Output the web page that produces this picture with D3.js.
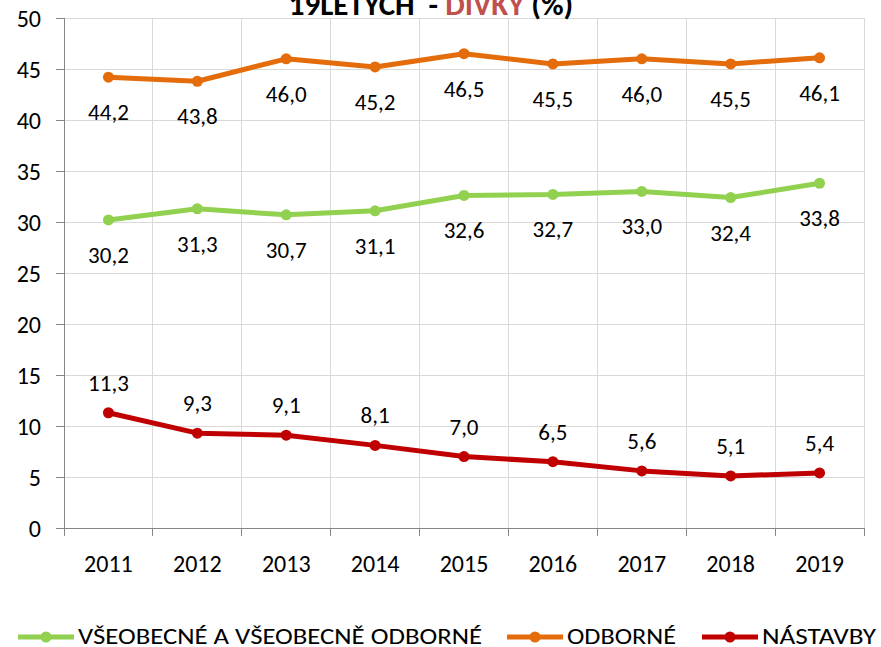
<!DOCTYPE html>
<html lang="cs">
<head>
<meta charset="utf-8">
<style>
body { margin: 0; background: #fff; }
svg text { font-family: Carlito, Lato, "Open Sans", sans-serif; fill: #000; }
.grid line { stroke: #d9d9d9; stroke-width: 1px; shape-rendering: crispEdges; }
.axis path, .axis line { stroke: #868686; stroke-width: 1px; shape-rendering: crispEdges; }
</style>
</head>
<body>
<svg width="881" height="647"></svg>
<script src="https://cdn.jsdelivr.net/npm/d3@7"></script>
<script>
var years = ["2011", "2012", "2013", "2014", "2015", "2016", "2017", "2018", "2019"];
var vseobecne = [30.2, 31.3, 30.7, 31.1, 32.6, 32.7, 33.0, 32.4, 33.8];
var odborne = [44.2, 43.8, 46.0, 45.2, 46.5, 45.5, 46.0, 45.5, 46.1];
var nastavby = [11.3, 9.3, 9.1, 8.1, 7.0, 6.5, 5.6, 5.1, 5.4];
var yTicks = [0, 5, 10, 15, 20, 25, 30, 35, 40, 45, 50];

var series = [
  { name: "VŠEOBECNÉ A VŠEOBECNĚ ODBORNÉ", values: vseobecne, color: "#92d050", below: true },
  { name: "ODBORNÉ", values: odborne, color: "#e46c0a", below: true },
  { name: "NÁSTAVBY", values: nastavby, color: "#c00000", below: false }
];

var svg = d3.select("svg");
var plotL = 64, plotR = 864, plotT = 18, plotB = 528;

var x = d3.scaleBand().domain(years).range([plotL, plotR]);
var y = d3.scaleLinear().domain([0, 50]).range([plotB, plotT]);
var fmt = function(v) { return v.toFixed(1).replace(".", ","); };
var edge = function(d) { return d === "end" ? plotR : x(d); };

// gridlines
var grid = svg.append("g").attr("class", "grid");
grid.selectAll(".h").data(yTicks.slice(1)).enter().append("line")
    .attr("x1", plotL).attr("x2", plotR)
    .attr("y1", function(d) { return y(d); }).attr("y2", function(d) { return y(d); });
grid.selectAll(".v").data(years.slice(1).concat(["end"])).enter().append("line")
    .attr("x1", edge).attr("x2", edge)
    .attr("y1", plotT).attr("y2", plotB);

// y axis
var yAxis = svg.append("g").attr("class", "axis")
    .attr("transform", "translate(" + plotL + ",0)")
    .call(d3.axisLeft(y).tickValues(yTicks).tickSize(8).tickPadding(15));
yAxis.selectAll("text").style("font-size", "24px").attr("dy", "0.36em");

// x axis, ticks sit on the band edges
var xAxis = svg.append("g").attr("class", "axis")
    .attr("transform", "translate(0," + plotB + ")")
    .call(d3.axisBottom(x).tickSize(0).tickPadding(0));
xAxis.selectAll("text").style("font-size", "24px").attr("dy", null).attr("y", 44);
xAxis.selectAll(".edge").data(years.concat(["end"])).enter().append("line")
    .attr("x1", edge).attr("x2", edge)
    .attr("y1", 0).attr("y2", 8);

// title (its first line is cut off in the source)
var title = svg.append("text").attr("x", 431).attr("y", 15)
    .attr("text-anchor", "middle").style("font-size", "31px").style("font-weight", "bold")
    .style("white-space", "pre");
title.append("tspan").text("19LETÝCH  - ");
title.append("tspan").style("fill", "#c0504d").text("DÍVKY");
title.append("tspan").text(" (%)");

var line = d3.line()
    .x(function(d, i) { return x(years[i]) + x.bandwidth() / 2; })
    .y(function(d) { return y(d); });

series.forEach(function(s) {
  var g = svg.append("g");
  g.append("path").attr("d", line(s.values))
      .attr("fill", "none").attr("stroke", s.color)
      .attr("stroke-width", 5).attr("stroke-linejoin", "round");
  g.selectAll("circle").data(s.values).enter().append("circle")
      .attr("cx", function(d, i) { return x(years[i]) + x.bandwidth() / 2; })
      .attr("cy", function(d) { return y(d); })
      .attr("r", 5.5).attr("fill", s.color);
  g.selectAll("text").data(s.values).enter().append("text")
      .attr("x", function(d, i) { return x(years[i]) + x.bandwidth() / 2; })
      .attr("y", function(d) { return y(d) + (s.below ? 43 : -22); })
      .attr("text-anchor", "middle").style("font-size", "23px")
      .text(fmt);
});

// legend
var legendX = [18, 507, 702];
var legendW = [404, 109, 114];
series.forEach(function(s, i) {
  var g = svg.append("g").attr("transform", "translate(" + legendX[i] + ",637)");
  g.append("line").attr("x1", 0).attr("x2", 56).attr("y1", 0).attr("y2", 0)
      .attr("stroke", s.color).attr("stroke-width", 5);
  g.append("circle").attr("cx", 28).attr("cy", 0).attr("r", 5.5).attr("fill", s.color);
  g.append("text").attr("x", 60).attr("y", 7).style("font-size", "23px")
      .attr("textLength", legendW[i]).attr("lengthAdjust", "spacingAndGlyphs")
      .text(s.name);
});
</script>
</body>
</html>
